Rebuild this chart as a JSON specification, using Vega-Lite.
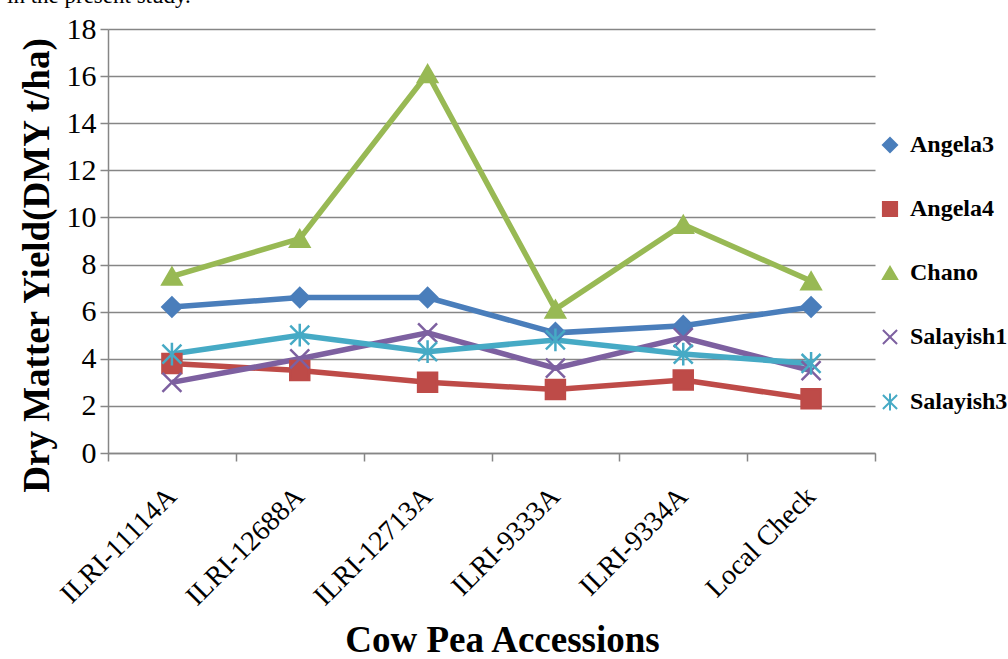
{
  "$schema": "https://vega.github.io/schema/vega-lite/v6.json",
  "autosize": {"type": "none"},
  "width": 767,
  "height": 424,
  "padding": {"left": 108, "top": 29, "right": 133, "bottom": 206},
  "background": "white",
  "title": {"text": "in the present study.", "anchor": "start", "frame": "group", "dx": -101, "offset": -12, "baseline": "alphabetic", "fontSize": 23, "fontWeight": "normal", "font": "Liberation Serif", "color": "black"},
  "config": {
    "font": "Liberation Serif",
    "view": {"stroke": null},
    "axis": {"labelColor": "black", "titleColor": "black", "domainColor": "#868686", "tickColor": "#868686", "gridColor": "#868686", "domainWidth": 1.5, "tickWidth": 1.5, "gridWidth": 1.5}
  },
  "data": {"values": [
    {"acc": "ILRI-11114A", "s": "Angela3", "v": 6.2},
    {"acc": "ILRI-12688A", "s": "Angela3", "v": 6.6},
    {"acc": "ILRI-12713A", "s": "Angela3", "v": 6.6},
    {"acc": "ILRI-9333A", "s": "Angela3", "v": 5.1},
    {"acc": "ILRI-9334A", "s": "Angela3", "v": 5.4},
    {"acc": "Local Check", "s": "Angela3", "v": 6.2},
    {"acc": "ILRI-11114A", "s": "Angela4", "v": 3.8},
    {"acc": "ILRI-12688A", "s": "Angela4", "v": 3.5},
    {"acc": "ILRI-12713A", "s": "Angela4", "v": 3.0},
    {"acc": "ILRI-9333A", "s": "Angela4", "v": 2.7},
    {"acc": "ILRI-9334A", "s": "Angela4", "v": 3.1},
    {"acc": "Local Check", "s": "Angela4", "v": 2.3},
    {"acc": "ILRI-11114A", "s": "Chano", "v": 7.5},
    {"acc": "ILRI-12688A", "s": "Chano", "v": 9.1},
    {"acc": "ILRI-12713A", "s": "Chano", "v": 16.1},
    {"acc": "ILRI-9333A", "s": "Chano", "v": 6.1},
    {"acc": "ILRI-9334A", "s": "Chano", "v": 9.7},
    {"acc": "Local Check", "s": "Chano", "v": 7.3},
    {"acc": "ILRI-11114A", "s": "Salayish1", "v": 3.0},
    {"acc": "ILRI-12688A", "s": "Salayish1", "v": 4.0},
    {"acc": "ILRI-12713A", "s": "Salayish1", "v": 5.1},
    {"acc": "ILRI-9333A", "s": "Salayish1", "v": 3.6},
    {"acc": "ILRI-9334A", "s": "Salayish1", "v": 4.9},
    {"acc": "Local Check", "s": "Salayish1", "v": 3.5},
    {"acc": "ILRI-11114A", "s": "Salayish3", "v": 4.2},
    {"acc": "ILRI-12688A", "s": "Salayish3", "v": 5.0},
    {"acc": "ILRI-12713A", "s": "Salayish3", "v": 4.3},
    {"acc": "ILRI-9333A", "s": "Salayish3", "v": 4.8},
    {"acc": "ILRI-9334A", "s": "Salayish3", "v": 4.2},
    {"acc": "Local Check", "s": "Salayish3", "v": 3.8}
  ]},
  "encoding": {
    "x": {"field": "acc", "type": "nominal", "sort": null,
      "scale": {"type": "band", "paddingInner": 0, "paddingOuter": 0},
      "axis": {"title": "Cow Pea Accessions", "titleFontSize": 37, "titleFontWeight": "bold", "titleX": 394, "titleY": 198, "titleBaseline": "alphabetic", "titleAnchor": "middle", "titleAlign": "center", "labelAngle": -45, "labelAlign": "right", "labelBaseline": "middle", "labelFontSize": 28, "labelPadding": 31, "tickBand": "extent", "tickSize": 8, "grid": false}},
    "y": {"field": "v", "type": "quantitative",
      "scale": {"domain": [0, 18], "nice": false},
      "axis": {"title": "Dry Matter Yield(DMY t/ha)", "titleFontSize": 37, "titleFontWeight": "bold", "titleX": -60, "titleY": 236, "titleBaseline": "alphabetic", "titleAlign": "center", "labelFontSize": 30, "labelPadding": 4, "values": [0,2,4,6,8,10,12,14,16,18], "tickSize": 8, "grid": true}},
    "color": {"field": "s", "type": "nominal",
      "scale": {"domain": ["Angela3","Angela4","Chano","Salayish1","Salayish3"], "range": ["#4a7ebb","#be4b48","#98b954","#7d60a0","#46aac5"]},
      "legend": {"title": null, "orient": "none", "legendX": 770, "legendY": 104, "labelFontSize": 24, "labelFontWeight": "bold", "labelFont": "Liberation Serif", "labelColor": "black", "rowPadding": 40, "symbolSize": 200, "symbolStrokeWidth": 2, "labelOffset": 8}}
  },
  "layer": [
    {"mark": {"type": "line", "strokeWidth": 5.5}},
    {"mark": {"type": "point", "filled": true, "opacity": 1, "size": 360, "strokeWidth": 2.5},
      "encoding": {
        "shape": {"field": "s", "type": "nominal",
          "scale": {"domain": ["Angela3","Angela4","Chano","Salayish1","Salayish3"], "range": ["diamond","square","triangle-up","M-1,-1L1,1M-1,1L1,-1","M-1,-1L1,1M-1,1L1,-1M0,-1.2L0,1.2"]}},
        "stroke": {"field": "s", "type": "nominal",
          "scale": {"domain": ["Angela3","Angela4","Chano","Salayish1","Salayish3"], "range": ["#4a7ebb","#be4b48","#98b954","#7d60a0","#46aac5"]}},
        "fill": {"field": "s", "type": "nominal",
          "scale": {"domain": ["Angela3","Angela4","Chano","Salayish1","Salayish3"], "range": ["#4a7ebb","#be4b48","#98b954","#7d60a0","#46aac5"]}}
      }}
  ]
}
